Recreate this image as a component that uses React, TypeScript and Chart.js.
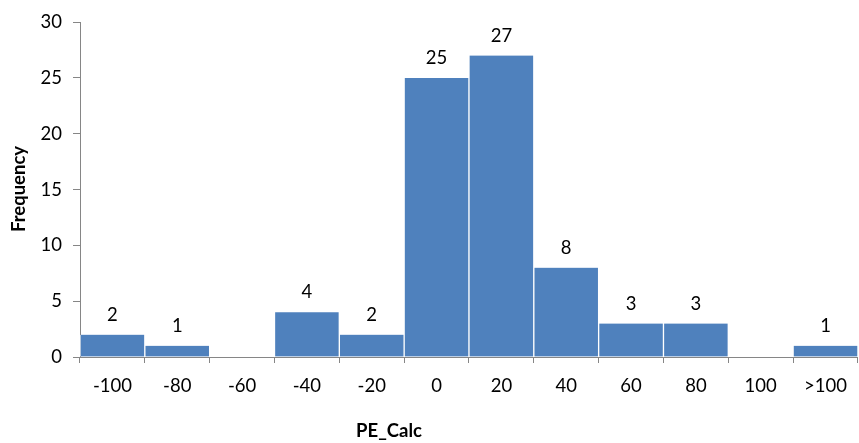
import React, { useEffect, useRef } from "react";
import { Chart, registerables } from "chart.js";

Chart.register(...registerables);

// Histogram bins of PE_Calc and their frequencies
const binLabels = ["-100", "-80", "-60", "-40", "-20", "0", "20", "40", "60", "80", "100", ">100"];
const frequencies = [2, 1, 0, 4, 2, 25, 27, 8, 3, 3, 0, 1];
const yTicks = [0, 5, 10, 15, 20, 25, 30];

const FONT = "Lato, 'Open Sans', sans-serif";
const FONT_SIZE = 18.5;
const AXIS_GREY = "#868686";

// Value labels above each non-empty bar, plus both axis titles
const labelsPlugin = {
  id: "histLabels",
  afterDatasetsDraw(chart: any) {
    const { ctx, chartArea } = chart;
    const meta = chart.getDatasetMeta(0);
    ctx.save();
    ctx.fillStyle = "#000";
    ctx.font = `${FONT_SIZE}px ${FONT}`;
    ctx.textAlign = "center";
    ctx.textBaseline = "alphabetic";
    meta.data.forEach((bar: any, i: number) => {
      const v = frequencies[i];
      if (!v) return;
      ctx.fillText(String(v), bar.x, bar.y - 14);
    });

    ctx.font = `bold ${FONT_SIZE}px ${FONT}`;
    ctx.textBaseline = "middle";
    ctx.fillText("PE_Calc", chartArea.left + 309, 431);

    ctx.translate(19, 189);
    ctx.rotate(-Math.PI / 2);
    ctx.fillText("Frequency", 0, 0);
    ctx.restore();
  },
};

export default function App() {
  const canvasRef = useRef<HTMLCanvasElement>(null);

  useEffect(() => {
    document.body.style.margin = "0";
    const chart = new Chart(canvasRef.current as HTMLCanvasElement, {
      type: "bar",
      data: {
        labels: binLabels,
        datasets: [
          {
            data: frequencies,
            backgroundColor: "#4F81BD",
            borderColor: "rgba(255,255,255,0.85)",
            borderWidth: { left: 1, right: 1, top: 0, bottom: 0 },
            borderSkipped: false,
            barPercentage: 1,
            categoryPercentage: 1,
          },
        ],
      },
      options: {
        responsive: false,
        animation: false,
        layout: { padding: { top: 21, right: 0, left: 0, bottom: 0 } },
        plugins: {
          legend: { display: false },
          tooltip: { enabled: false },
        },
        scales: {
          x: {
            grid: {
              offset: true,
              drawOnChartArea: false,
              drawTicks: true,
              tickLength: 6,
              color: AXIS_GREY,
            },
            border: { color: AXIS_GREY, width: 1 },
            ticks: {
              color: "#000",
              font: { family: FONT, size: FONT_SIZE },
              padding: 12,
              maxRotation: 0,
              autoSkip: false,
            },
            afterFit(scale: any) {
              scale.height = 86;
            },
          },
          y: {
            min: 0,
            max: 30,
            afterBuildTicks(scale: any) {
              scale.ticks = yTicks.map((v) => ({ value: v }));
            },
            grid: {
              drawOnChartArea: false,
              drawTicks: true,
              tickLength: 7,
              color: AXIS_GREY,
            },
            border: { color: AXIS_GREY, width: 1 },
            ticks: {
              color: "#000",
              font: { family: FONT, size: FONT_SIZE },
              padding: 11,
            },
            afterFit(scale: any) {
              scale.width = 80;
            },
          },
        },
      },
      plugins: [labelsPlugin],
    });
    return () => chart.destroy();
  }, []);

  return (
    <div style={{ width: 859, height: 443 }}>
      <canvas ref={canvasRef} width={859} height={443} />
    </div>
  );
}
